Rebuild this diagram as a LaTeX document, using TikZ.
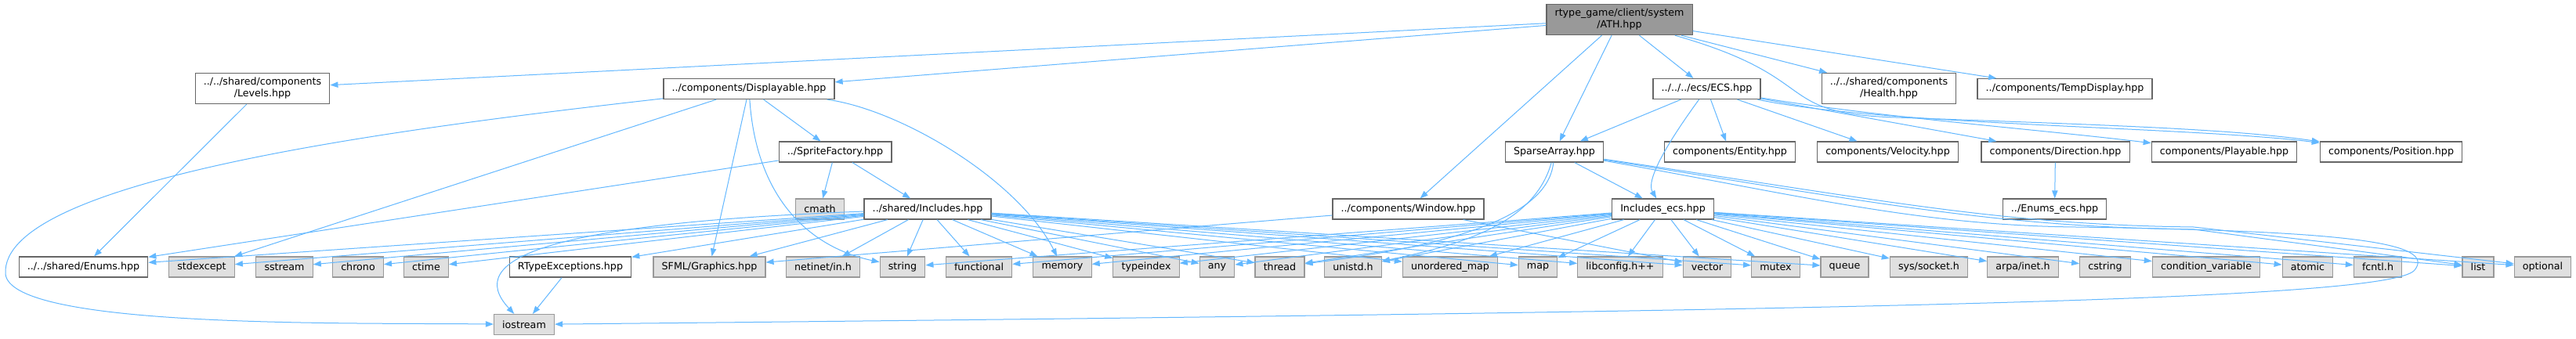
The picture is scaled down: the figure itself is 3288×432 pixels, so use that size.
\documentclass[tikz,border=0pt]{standalone}
\usepackage{fontspec}
\setmainfont{DejaVu Sans}
\usetikzlibrary{arrows.meta}
\definecolor{depblue}{HTML}{63B8FF}
\definecolor{nodegray}{HTML}{666666}
\definecolor{sysgray}{HTML}{999999}
\definecolor{sysfill}{HTML}{E0E0E0}
\definecolor{mainfill}{HTML}{999999}
\newcommand{\doxyfont}{\fontsize{9.5pt}{11.25pt}\selectfont}
\tikzset{
  filebox/.style={draw=nodegray,fill=white,line width=.9pt,font=\doxyfont,align=center,inner xsep=8pt,inner ysep=4.5pt,minimum height=19.5pt},
  sysbox/.style={filebox,draw=sysgray,fill=sysfill},
  mainbox/.style={filebox,fill=mainfill},
  dep/.style={-{Triangle[length=7.5pt,width=5.5pt]},draw=depblue,line width=.75pt},
}

\begin{document}
\begin{tikzpicture}[x=.75pt,y=-.75pt]
  \path[fill=white,use as bounding box] (0,0) rectangle (3288,432);
  \node[mainbox] (ath) at (2067,25) {rtype\_game/client/system\\/ATH.hpp};
  \node[filebox] (levels) at (335,113) {../../shared/components\\/Levels.hpp};
  \node[filebox] (disp) at (956,113.5) {../components/Displayable.hpp};
  \node[filebox] (ecs) at (2178.5,113.5) {../../../ecs/ECS.hpp};
  \node[filebox] (health) at (2411,113) {../../shared/components\\/Health.hpp};
  \node[filebox] (tempdisp) at (2635.5,113.5) {../components/TempDisplay.hpp};
  \node[filebox] (sprite) at (1066,194) {../SpriteFactory.hpp};
  \node[filebox] (sparse) at (1984,194) {SparseArray.hpp};
  \node[filebox] (entity) at (2208,194) {components/Entity.hpp};
  \node[filebox] (velocity) at (2409.5,194) {components/Velocity.hpp};
  \node[filebox] (direction) at (2623.5,194) {components/Direction.hpp};
  \node[filebox] (playable) at (2839,194) {components/Playable.hpp};
  \node[filebox] (position) at (3052,194) {components/Position.hpp};
  \node[sysbox] (cmath) at (1046.5,267) {cmath};
  \node[filebox] (incl) at (1184,267) {../shared/Includes.hpp};
  \node[filebox] (window) at (1797.5,267) {../components/Window.hpp};
  \node[filebox] (inclecs) at (2122.5,267) {Includes\_ecs.hpp};
  \node[filebox] (enumsecs) at (2622.5,267) {../Enums\_ecs.hpp};
  \node[filebox] (enums) at (106.5,341) {../../shared/Enums.hpp};
  \node[sysbox] (stdexcept) at (257.5,341) {stdexcept};
  \node[sysbox] (sstream) at (363,341) {sstream};
  \node[sysbox] (chrono) at (457,341) {chrono};
  \node[sysbox] (ctime) at (544,341) {ctime};
  \node[filebox] (rtexc) at (728,341) {RTypeExceptions.hpp};
  \node[sysbox] (sfml) at (905.5,341) {SFML/Graphics.hpp};
  \node[sysbox] (netinet) at (1050.5,341) {netinet/in.h};
  \node[sysbox] (string) at (1152,341) {string};
  \node[sysbox] (functional) at (1249.5,341) {functional};
  \node[sysbox] (memory) at (1356,341) {memory};
  \node[sysbox] (typeindex) at (1463,341) {typeindex};
  \node[sysbox] (any) at (1553.5,341) {any};
  \node[sysbox] (thread) at (1633.5,341) {thread};
  \node[sysbox] (unistd) at (1727,341) {unistd.h};
  \node[sysbox] (umap) at (1851,341) {unordered\_map};
  \node[sysbox] (map) at (1963,341) {map};
  \node[sysbox] (libconfig) at (2068,341) {libconfig.h++};
  \node[sysbox] (vector) at (2179,341) {vector};
  \node[sysbox] (mutex) at (2266.5,341) {mutex};
  \node[sysbox] (queue) at (2354.5,341) {queue};
  \node[sysbox] (socket) at (2462,341) {sys/socket.h};
  \node[sysbox] (inet) at (2582,341) {arpa/inet.h};
  \node[sysbox] (cstring) at (2687,341) {cstring};
  \node[sysbox] (condvar) at (2816,341) {condition\_variable};
  \node[sysbox] (atomic) at (2945.5,341) {atomic};
  \node[sysbox] (fcntl) at (3035,341) {fcntl.h};
  \node[sysbox] (list) at (3163,341) {list};
  \node[sysbox] (optional) at (3245.5,341) {optional};
  \node[sysbox] (iostream) at (669,414.5) {iostream};
  \draw[dep] (ath)--(levels);
  \draw[dep] (ath)--(disp);
  \draw[dep] (ath)--(window);
  \draw[dep] (ath)--(sparse);
  \draw[dep] (ath)--(ecs);
  \draw[dep] (ath)--(health);
  \draw[dep] (ath)--(tempdisp);
  \draw[dep] (ath) .. controls (2330,100) and (2260,145) .. (2420,150) .. controls (2700,160) and (2850,165) .. (position);
  \draw[dep] (levels)--(enums);
  \draw[dep] (disp) .. controls (500,165) and (0,230) .. (7,350) .. controls (14,420) and (450,412) .. (iostream);
  \draw[dep] (disp)--(stdexcept);
  \draw[dep] (disp)--(sfml);
  \draw[dep] (disp) .. controls (965,250) and (1030,315) .. (string);
  \draw[dep] (disp) .. controls (1150,140) and (1300,230) .. (memory);
  \draw[dep] (disp)--(sprite);
  \draw[dep] (sprite)--(enums);
  \draw[dep] (sprite)--(cmath);
  \draw[dep] (sprite)--(incl);
  \draw[dep] (incl)--(enums);
  \draw[dep] (incl)--(stdexcept);
  \draw[dep] (incl)--(sstream);
  \draw[dep] (incl)--(chrono);
  \draw[dep] (incl)--(ctime);
  \draw[dep] (incl)--(rtexc);
  \draw[dep] (incl)--(sfml);
  \draw[dep] (incl)--(netinet);
  \draw[dep] (incl)--(string);
  \draw[dep] (incl)--(functional);
  \draw[dep] (incl)--(memory);
  \draw[dep] (incl)--(typeindex);
  \draw[dep] (incl)--(any);
  \draw[dep] (incl)--(thread);
  \draw[dep] (incl)--(umap);
  \draw[dep] (incl)--(map);
  \draw[dep] (incl)--(libconfig);
  \draw[dep] (incl)--(vector);
  \draw[dep] (incl)--(mutex);
  \draw[dep] (incl)--(queue);
  \draw[dep] (incl) .. controls (700,285) and (590,330) .. (iostream);
  \draw[dep] (rtexc)--(iostream);
  \draw[dep] (window)--(sfml);
  \draw[dep] (window)--(vector);
  \draw[dep] (ecs)--(sparse);
  \draw[dep] (ecs) .. controls (2130,180) and (2100,230) .. (inclecs);
  \draw[dep] (ecs)--(entity);
  \draw[dep] (ecs)--(velocity);
  \draw[dep] (ecs)--(direction);
  \draw[dep] (ecs) .. controls (2400,150) and (2600,165) .. (playable);
  \draw[dep] (ecs) .. controls (2400,160) and (2800,162) .. (position);
  \draw[dep] (direction)--(enumsecs);
  \draw[dep] (sparse)--(inclecs);
  \draw[dep] (sparse) .. controls (2400,260) and (2550,290) .. (2800,293) -- (list);
  \draw[dep] (sparse) .. controls (2400,255) and (2550,287) .. (2800,290) -- (optional);
  \draw[dep] (sparse) .. controls (1975,290) and (1800,320) .. (thread);
  \draw[dep] (sparse) .. controls (1960,280) and (1880,310) .. (unistd);
  \draw[dep] (sparse) .. controls (2300,250) and (2450,288) .. (2650,290) .. controls (3000,295) and (3110,310) .. (3082,345) .. controls (3050,385) and (2300,398) .. (iostream);
  \draw[dep] (inclecs)--(string);
  \draw[dep] (inclecs)--(functional);
  \draw[dep] (inclecs)--(memory);
  \draw[dep] (inclecs)--(typeindex);
  \draw[dep] (inclecs)--(any);
  \draw[dep] (inclecs)--(thread);
  \draw[dep] (inclecs)--(unistd);
  \draw[dep] (inclecs)--(umap);
  \draw[dep] (inclecs)--(map);
  \draw[dep] (inclecs)--(libconfig);
  \draw[dep] (inclecs)--(vector);
  \draw[dep] (inclecs)--(mutex);
  \draw[dep] (inclecs)--(queue);
  \draw[dep] (inclecs)--(socket);
  \draw[dep] (inclecs)--(inet);
  \draw[dep] (inclecs)--(cstring);
  \draw[dep] (inclecs)--(condvar);
  \draw[dep] (inclecs)--(atomic);
  \draw[dep] (inclecs)--(fcntl);
  \draw[dep] (inclecs)--(list);
  \draw[dep] (inclecs)--(optional);
\end{tikzpicture}
\end{document}
